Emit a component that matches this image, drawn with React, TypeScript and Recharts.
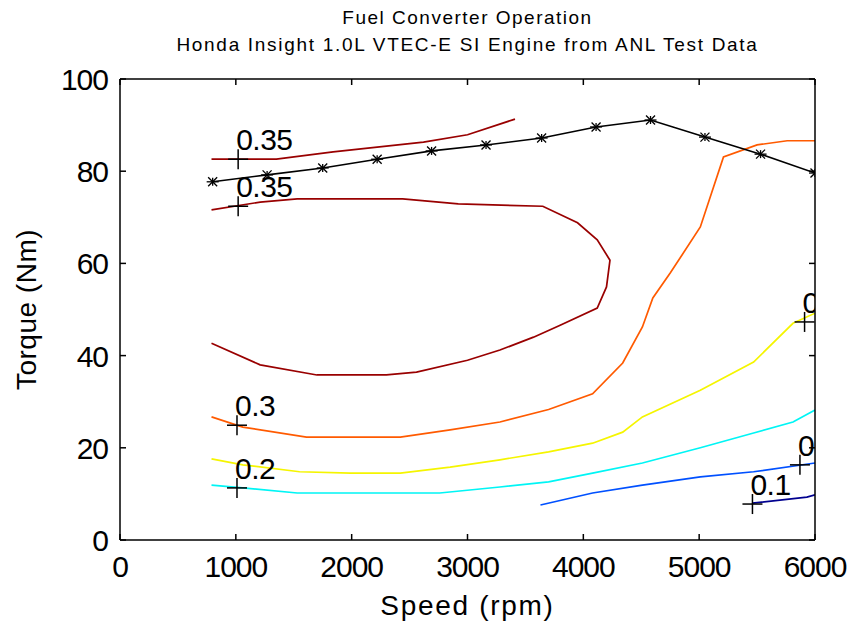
import { LineChart, Line, XAxis, YAxis, Label } from "recharts";

// axis ticks
const speedTicks = [0, 1000, 2000, 3000, 4000, 5000, 6000];
const torqueTicks = [0, 20, 40, 60, 80, 100];

// max torque curve (black, * markers)
const maxTrqSpeed = [800, 1270, 1750, 2220, 2690, 3160, 3640, 4110, 4580, 5050, 5530, 6000];
const maxTrq = [77.7, 79.2, 80.7, 82.6, 84.4, 85.7, 87.2, 89.6, 91.1, 87.4, 83.7, 79.6];

// efficiency contours
const eff35aSpeed = [790, 1350, 1840, 2620, 3000, 3410];
const eff35aTrq = [82.6, 82.6, 84.2, 86.3, 87.9, 91.3];

const eff35bSpeed = [790, 1210, 1530, 2440, 2920, 3650, 3950, 4120, 4230, 4200, 4120, 3800, 3570, 3280, 3000, 2560, 2300, 1700, 1210, 790];
const eff35bTrq = [71.6, 73.3, 74, 74, 72.9, 72.4, 68.8, 65.1, 60.7, 54.9, 50.3, 46.6, 44, 41.2, 39, 36.4, 35.8, 35.8, 38, 42.7];

const eff30Speed = [790, 1060, 1610, 2420, 2850, 3280, 3700, 4080, 4340, 4510, 4600, 4750, 5010, 5210, 5500, 5760, 6000];
const eff30Trq = [26.7, 24.5, 22.3, 22.3, 23.9, 25.6, 28.3, 31.7, 38.4, 46.2, 52.5, 57.9, 67.9, 83.1, 85.7, 86.6, 86.6];

const eff25Speed = [790, 1060, 1550, 1990, 2420, 2850, 3280, 3700, 4080, 4340, 4510, 5010, 5470, 5810, 6000];
const eff25Trq = [17.6, 16.3, 14.8, 14.5, 14.5, 15.8, 17.4, 19.1, 21, 23.4, 26.7, 32.5, 38.6, 47, 49.2];

const eff20Speed = [790, 1060, 1530, 2760, 3280, 3700, 4080, 4510, 5010, 5470, 5810, 6000];
const eff20Trq = [11.9, 11.3, 10.2, 10.2, 11.5, 12.6, 14.5, 16.7, 20, 23.2, 25.6, 28.2];

const eff15Speed = [3630, 4080, 4510, 5010, 5470, 6000];
const eff15Trq = [7.6, 10.2, 11.9, 13.7, 14.8, 16.7];

const eff10Speed = [5460, 5930, 6000];
const eff10Trq = [8, 9.3, 9.8];

// contour labels
const labelSpeed = [1020, 1020, 1010, 1010, 5910, 5870, 5460];
const labelTrq = [82.6, 72.4, 24.9, 11.3, 47.3, 16.3, 7.8];
const labelText = ["0.35", "0.35", "0.3", "0.2", "0.25", "0.15", "0.1"];

const zip = (s: number[], t: number[]) => s.map((v, i) => ({ s: v, t: t[i] }));

const contours = [
  { key: "e35a", pts: zip(eff35aSpeed, eff35aTrq), color: "#990000" },
  { key: "e35b", pts: zip(eff35bSpeed, eff35bTrq), color: "#990000" },
  { key: "e30", pts: zip(eff30Speed, eff30Trq), color: "#FF5A00" },
  { key: "e25", pts: zip(eff25Speed, eff25Trq), color: "#F5F500" },
  { key: "e20", pts: zip(eff20Speed, eff20Trq), color: "#00F5F5" },
  { key: "e15", pts: zip(eff15Speed, eff15Trq), color: "#0050FF" },
  { key: "e10", pts: zip(eff10Speed, eff10Trq), color: "#00008F" },
];

const maxTrqPts = zip(maxTrqSpeed, maxTrq);
const labelPts = labelSpeed.map((s, i) => ({ s, t: labelTrq[i], text: labelText[i] }));

const FONT = "'Liberation Sans', Arial, sans-serif";
const TICK_IN = 6;

const BottomTick = (props: any) => {
  const { x, y, payload } = props;
  const axisY = y - 37;
  return (
    <g>
      <line x1={x} y1={axisY} x2={x} y2={axisY - TICK_IN} stroke="#000" strokeWidth={1.5} />
      <text x={x} y={y} textAnchor="middle" fontFamily={FONT} fontSize={30} letterSpacing={-1} fill="#000">
        {payload.value}
      </text>
    </g>
  );
};

const LeftTick = (props: any) => {
  const { x, y, payload } = props;
  const axisX = x + 12;
  return (
    <g>
      <line x1={axisX} y1={y} x2={axisX + TICK_IN} y2={y} stroke="#000" strokeWidth={1.5} />
      <text x={x} y={y + 11} textAnchor="end" fontFamily={FONT} fontSize={30} letterSpacing={-1} fill="#000">
        {payload.value}
      </text>
    </g>
  );
};

const TopTick = (props: any) => {
  const { x, y } = props;
  return <line x1={x} y1={y} x2={x} y2={y + TICK_IN} stroke="#000" strokeWidth={1.5} />;
};

const RightTick = (props: any) => {
  const { x, y } = props;
  return <line x1={x} y1={y} x2={x - TICK_IN} y2={y} stroke="#000" strokeWidth={1.5} />;
};

const StarDot = (props: any) => {
  const { cx, cy, index } = props;
  const r = 6;
  const d = 4.5;
  return (
    <g key={`star-${index}`} stroke="#000" strokeWidth={1.3}>
      <line x1={cx - r} y1={cy} x2={cx + r} y2={cy} />
      <line x1={cx} y1={cy - 4} x2={cx} y2={cy + 4} />
      <line x1={cx - d} y1={cy - d} x2={cx + d} y2={cy + d} />
      <line x1={cx - d} y1={cy + d} x2={cx + d} y2={cy - d} />
    </g>
  );
};

const ContourLabel = (props: any) => {
  const { cx, cy, index, payload } = props;
  return (
    <g key={`lbl-${index}`}>
      <line x1={cx - 10} y1={cy} x2={cx + 10} y2={cy} stroke="#000" strokeWidth={1.5} />
      <line x1={cx} y1={cy - 10} x2={cx} y2={cy + 10} stroke="#000" strokeWidth={1.5} />
      <text x={cx - 2} y={cy - 9} fontFamily={FONT} fontSize={30} letterSpacing={-0.5} fill="#000">
        {payload.text}
      </text>
    </g>
  );
};

export default function App() {
  return (
    <div style={{ position: "absolute", left: 0, top: 0, background: "#fff" }}>
      <LineChart width={849} height={627} margin={{ top: 78, right: 33, bottom: 47, left: 60 }}>
        <XAxis
          dataKey="s"
          type="number"
          domain={[0, 6000]}
          ticks={speedTicks}
          interval={0}
          allowDataOverflow
          tickSize={0}
          tickMargin={37}
          height={40}
          axisLine={{ stroke: "#000", strokeWidth: 1.5 }}
          tick={BottomTick}
        >
          <Label
            content={({ viewBox }: any) => (
              <text
                x={viewBox.x + viewBox.width / 2}
                y={615}
                textAnchor="middle"
                fontFamily={FONT}
                fontSize={28}
                letterSpacing={1.7}
                fill="#000"
              >
                Speed (rpm)
              </text>
            )}
          />
        </XAxis>
        <XAxis
          xAxisId="top"
          orientation="top"
          dataKey="s"
          type="number"
          domain={[0, 6000]}
          ticks={speedTicks}
          interval={0}
          allowDataOverflow
          tickSize={0}
          tickMargin={0}
          height={1}
          axisLine={{ stroke: "#000", strokeWidth: 1.5 }}
          tick={TopTick}
        >
          <Label
            content={({ viewBox }: any) => (
              <g>
                <text
                  x={viewBox.x + viewBox.width / 2}
                  y={24}
                  textAnchor="middle"
                  fontFamily={FONT}
                  fontSize={19}
                  letterSpacing={1.5}
                  fill="#000"
                >
                  Fuel Converter Operation
                </text>
                <text
                  x={viewBox.x + viewBox.width / 2}
                  y={51}
                  textAnchor="middle"
                  fontFamily={FONT}
                  fontSize={19}
                  letterSpacing={1.7}
                  fill="#000"
                >
                  Honda Insight 1.0L VTEC-E SI Engine from ANL Test Data
                </text>
              </g>
            )}
          />
        </XAxis>
        <YAxis
          type="number"
          domain={[0, 100]}
          ticks={torqueTicks}
          interval={0}
          allowDataOverflow
          tickSize={0}
          tickMargin={12}
          width={60}
          axisLine={{ stroke: "#000", strokeWidth: 1.5 }}
          tick={LeftTick}
        >
          <Label
            content={({ viewBox }: any) => (
              <text
                transform={`translate(36, ${viewBox.y + viewBox.height / 2}) rotate(-90)`}
                textAnchor="middle"
                fontFamily={FONT}
                fontSize={28}
                letterSpacing={0.5}
                fill="#000"
              >
                Torque (Nm)
              </text>
            )}
          />
        </YAxis>
        <YAxis
          yAxisId="right"
          orientation="right"
          type="number"
          domain={[0, 100]}
          ticks={torqueTicks}
          interval={0}
          allowDataOverflow
          tickSize={0}
          tickMargin={0}
          width={1}
          axisLine={{ stroke: "#000", strokeWidth: 1.5 }}
          tick={RightTick}
        />
        {contours.map((c) => (
          <Line
            key={c.key}
            data={c.pts}
            dataKey="t"
            type="linear"
            stroke={c.color}
            strokeWidth={1.7}
            dot={false}
            isAnimationActive={false}
          />
        ))}
        <Line
          data={maxTrqPts}
          dataKey="t"
          type="linear"
          stroke="#000"
          strokeWidth={1.6}
          dot={StarDot}
          isAnimationActive={false}
        />
        <Line
          data={labelPts}
          dataKey="t"
          type="linear"
          stroke="none"
          dot={ContourLabel}
          isAnimationActive={false}
        />
      </LineChart>
    </div>
  );
}
